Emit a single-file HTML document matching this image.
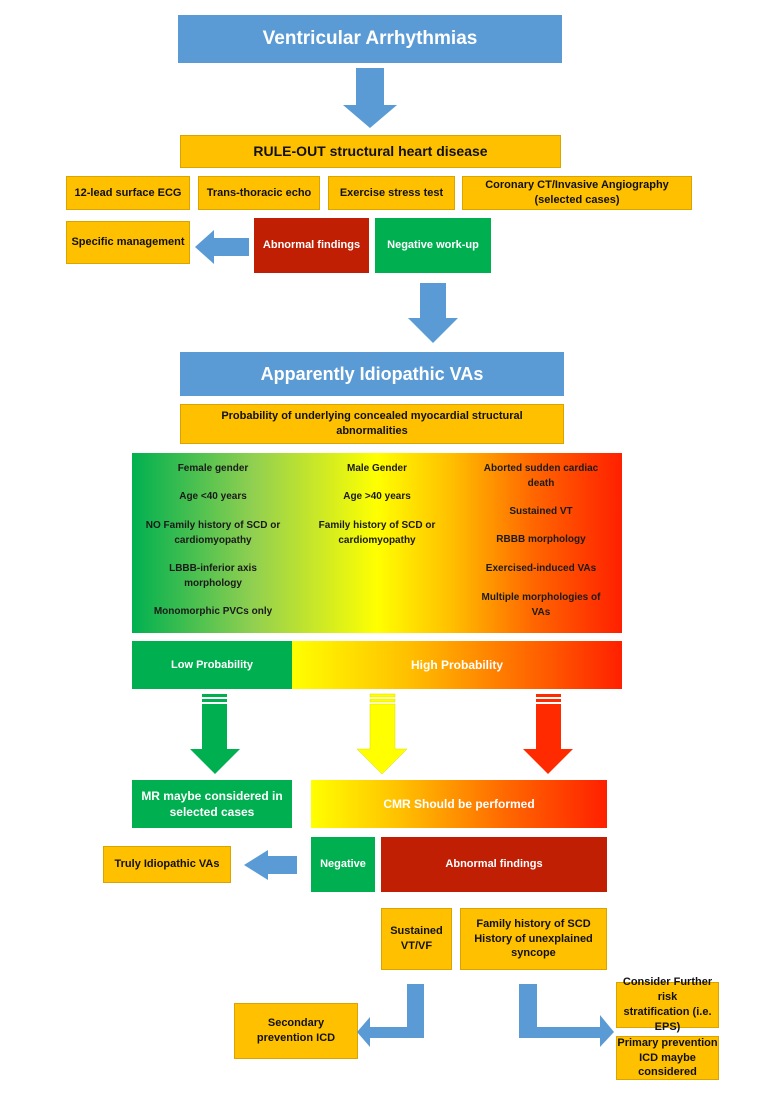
<!DOCTYPE html>
<html><head><meta charset="utf-8"><style>
body{margin:0;background:#fff;width:767px;height:1094px;position:relative;overflow:hidden;font-family:"Liberation Sans",sans-serif;font-weight:bold}
.b{position:absolute;display:flex;align-items:center;justify-content:center;text-align:center;box-sizing:border-box;line-height:1.35}
.o{background:#ffc000;border:1px solid #d9a400;color:#111;font-size:11px}
.bl{background:#5b9bd5;color:#fff}
.r{background:#c01f04;color:#fff;font-size:11px}
.g{background:#00b050;color:#fff;font-size:11px}
.t{position:absolute;font-size:10px;color:#1a1a1a;text-align:center;line-height:14.5px;transform:translateX(-50%);white-space:nowrap}
svg{position:absolute;left:0;top:0}
</style></head><body>
<div class="b bl" style="left:178px;top:15px;width:384px;height:48px;font-size:19px">Ventricular Arrhythmias</div>
<div class="b o" style="left:180px;top:135px;width:381px;height:33px;font-size:14px">RULE-OUT structural heart disease</div>
<div class="b o" style="left:66px;top:176px;width:124px;height:34px">12-lead surface ECG</div>
<div class="b o" style="left:198px;top:176px;width:122px;height:34px">Trans-thoracic echo</div>
<div class="b o" style="left:328px;top:176px;width:127px;height:34px">Exercise stress test</div>
<div class="b o" style="left:462px;top:176px;width:230px;height:34px">Coronary CT/Invasive Angiography<br>(selected cases)</div>
<div class="b o" style="left:66px;top:221px;width:124px;height:43px">Specific management</div>
<div class="b r" style="left:254px;top:218px;width:115px;height:55px">Abnormal findings</div>
<div class="b g" style="left:375px;top:218px;width:116px;height:55px">Negative work-up</div>
<div class="b bl" style="left:180px;top:352px;width:384px;height:44px;font-size:18px">Apparently Idiopathic VAs</div>
<div class="b o" style="left:180px;top:404px;width:384px;height:40px">Probability of underlying concealed myocardial structural<br>abnormalities</div>
<div style="position:absolute;left:132px;top:453px;width:490px;height:180px;background:linear-gradient(90deg,#00b050 0%,#92d050 25%,#ffff00 50%,#ffc000 65%,#ff6600 82%,#ff2000 100%)"></div>
<div class="t" style="left:213px;top:462px">Female gender</div>
<div class="t" style="left:213px;top:490px">Age &lt;40 years</div>
<div class="t" style="left:213px;top:519px">NO Family history of SCD or<br>cardiomyopathy</div>
<div class="t" style="left:213px;top:562px">LBBB-inferior axis<br>morphology</div>
<div class="t" style="left:213px;top:605px">Monomorphic PVCs only</div>
<div class="t" style="left:377px;top:462px">Male Gender</div>
<div class="t" style="left:377px;top:490px">Age &gt;40 years</div>
<div class="t" style="left:377px;top:519px">Family history of SCD or<br>cardiomyopathy</div>
<div class="t" style="left:541px;top:462px">Aborted sudden cardiac<br>death</div>
<div class="t" style="left:541px;top:505px">Sustained VT</div>
<div class="t" style="left:541px;top:533px">RBBB morphology</div>
<div class="t" style="left:541px;top:562px">Exercised-induced VAs</div>
<div class="t" style="left:541px;top:591px">Multiple morphologies of<br>VAs</div>
<div class="b g" style="left:132px;top:641px;width:160px;height:48px">Low Probability</div>
<div class="b" style="left:292px;top:641px;width:330px;height:48px;background:linear-gradient(90deg,#ffff00,#ffc000 35%,#ff6000 75%,#ff2000);color:#fff;font-size:12px">High Probability</div>
<div class="b g" style="left:132px;top:780px;width:160px;height:48px;font-size:12px">MR maybe considered in<br>selected cases</div>
<div class="b" style="left:311px;top:780px;width:296px;height:48px;background:linear-gradient(90deg,#ffff00,#ffc000 30%,#ff6a00 65%,#ff2000);color:#fff;font-size:12px">CMR Should be performed</div>
<div class="b g" style="left:311px;top:837px;width:64px;height:55px">Negative</div>
<div class="b r" style="left:381px;top:837px;width:226px;height:55px">Abnormal findings</div>
<div class="b o" style="left:103px;top:846px;width:128px;height:37px">Truly Idiopathic VAs</div>
<div class="b o" style="left:381px;top:908px;width:71px;height:62px">Sustained<br>VT/VF</div>
<div class="b o" style="left:460px;top:908px;width:147px;height:62px">Family history of SCD<br>History of unexplained<br>syncope</div>
<div class="b o" style="left:234px;top:1003px;width:124px;height:56px">Secondary<br>prevention ICD</div>
<div class="b o" style="left:616px;top:982px;width:103px;height:46px">Consider Further risk<br>stratification (i.e. EPS)</div>
<div class="b o" style="left:616px;top:1036px;width:103px;height:44px">Primary prevention<br>ICD maybe considered</div>
<svg width="767" height="1094">
<g fill="#5b9bd5">
<polygon points="356,68 384,68 384,105 397,105 370,128 343,105 356,105"/>
<polygon points="249,238 214,238 214,230 195,247 214,264 214,256 249,256"/>
<polygon points="420,283 446,283 446,318 458,318 433,343 408,318 420,318"/>
<polygon points="297,856 268,856 268,850 244,865 268,880 268,874 297,874"/>
<polygon points="407,984 424,984 424,1038 370,1038 370,1047 357,1032 370,1017 370,1027 407,1027"/>
<polygon points="519,984 537,984 537,1027 600,1027 600,1015 614,1032 600,1047 600,1038 519,1038"/>
</g>
<g fill="#00b050"><rect x="202" y="694" width="25" height="3"/><rect x="202" y="699" width="25" height="3"/><polygon points="202,704 227,704 227,749 240,749 215,774 190,749 202,749"/></g>
<g fill="#ffff00" stroke="#d9d900" stroke-width="0.5"><rect x="370" y="694" width="25" height="3"/><rect x="370" y="699" width="25" height="3"/><polygon points="370,704 395,704 395,749 407,749 382,774 357,749 370,749"/></g>
<g fill="#ff2a00"><rect x="536" y="694" width="25" height="3"/><rect x="536" y="699" width="25" height="3"/><polygon points="536,704 561,704 561,749 573,749 548,774 523,749 536,749"/></g>
</svg>
</body></html>
